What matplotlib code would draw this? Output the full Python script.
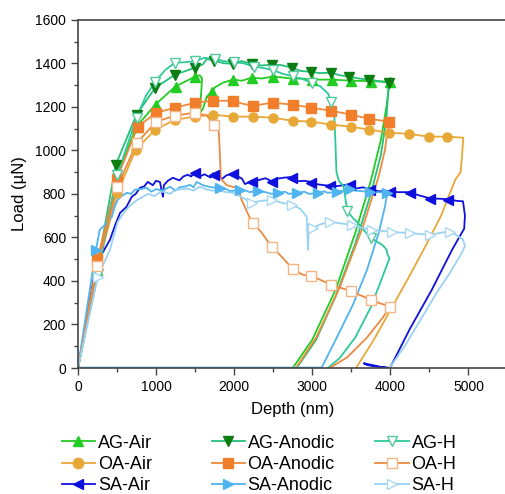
import matplotlib
matplotlib.use('Agg')
import matplotlib.pyplot as plt
from matplotlib.ticker import MultipleLocator

plt.rcParams['font.family'] = ['Liberation Sans', 'DejaVu Sans']

# ---- AG-Air ----
ag_air_d = [0, 130, 250, 505, 750, 990, 1245, 1500, 1560, 1590, 1575, 1565, 1600, 1650, 1717, 1755, 1860,
            1985, 2100, 2225, 2350, 2495, 2620, 2750, 2870, 3000, 3245, 3500, 3750, 3990,
            3950, 3880, 3750, 3550, 3300, 3000, 2750]
ag_air_l = [0, 230, 450, 890, 1109, 1210, 1293, 1339, 1345, 1330, 1250, 1175, 1190, 1247, 1270, 1290, 1311,
            1325, 1320, 1334, 1330, 1339, 1335, 1329, 1330, 1325, 1325, 1320, 1318, 1315,
            1200, 1050, 860, 620, 360, 130, 0]
ag_air_md = [250, 500, 750, 1000, 1250, 1500, 1720, 1985, 2225, 2495, 2750, 3000, 3250, 3500, 3750, 3990]
ag_air_ml = [450, 880, 1109, 1210, 1293, 1339, 1270, 1325, 1334, 1339, 1329, 1325, 1322, 1318, 1315, 1312]

# ---- AG-Anodic ----
ag_an_d = [0, 250, 485, 750, 990, 1245, 1500, 1600, 1650, 1745, 1870, 1985, 2100, 2225, 2350, 2480, 2600,
           2735, 2850, 2990, 3100, 3245, 3350, 3475, 3600, 3730, 3850, 3980,
           3950, 3880, 3750, 3550, 3300, 3050, 2800]
ag_an_l = [0, 465, 934, 1164, 1288, 1348, 1380, 1395, 1420, 1412, 1400, 1398, 1410, 1398, 1390, 1394, 1392,
           1380, 1365, 1360, 1355, 1357, 1345, 1339, 1330, 1325, 1318, 1311,
           1150, 980, 800, 570, 330, 130, 0]
ag_an_md = [250, 485, 750, 990, 1245, 1500, 1745, 1985, 2225, 2480, 2735, 2990, 3245, 3475, 3730, 3980]
ag_an_ml = [465, 934, 1164, 1288, 1348, 1380, 1412, 1398, 1398, 1394, 1380, 1360, 1357, 1339, 1325, 1311]

# ---- AG-H ----
ag_h_d = [0, 255, 505, 750, 870, 990, 1120, 1245, 1380, 1500, 1620, 1750, 1870, 2000, 2120, 2250, 2380,
          2500, 2620, 2750, 2870, 3000, 3100, 3200, 3245, 3280, 3290, 3300, 3310, 3340, 3400, 3450, 3520,
          3600, 3680, 3750, 3830, 3900, 3950, 3965, 3990,
          3900, 3750, 3550, 3350, 3200]
ag_h_l = [0, 430, 888, 1150, 1250, 1316, 1370, 1403, 1405, 1410, 1425, 1420, 1410, 1405, 1400, 1385, 1378,
          1368, 1352, 1340, 1328, 1310, 1295, 1262, 1224, 1180, 1100, 1000, 900, 860, 835, 720, 690,
          660, 625, 598, 580, 565, 545, 520, 505,
          420, 280, 140, 45, 0]
ag_h_md = [255, 505, 750, 990, 1245, 1500, 1750, 2000, 2250, 2500, 2750, 3000, 3245, 3450, 3750]
ag_h_ml = [430, 888, 1150, 1316, 1403, 1410, 1420, 1405, 1385, 1368, 1340, 1310, 1224, 720, 598]

# ---- OA-Air ----
oa_air_d = [0, 250, 505, 740, 990, 1245, 1500, 1730, 1985, 2240, 2495, 2750, 2990, 3245, 3500, 3730,
            3980, 4235, 4490, 4730, 4935, 4900, 4830, 4650, 4450, 4240, 4000, 3780, 3560]
oa_air_l = [0, 460, 805, 1003, 1095, 1141, 1155, 1164, 1155, 1155, 1150, 1136, 1132, 1118, 1109, 1095,
            1081, 1076, 1063, 1063, 1058, 900, 865, 700, 560, 420, 265, 125, 0]
oa_air_md = [250, 505, 740, 990, 1245, 1500, 1730, 1985, 2240, 2495, 2750, 2990, 3245, 3500, 3730,
             3980, 4235, 4490, 4730]
oa_air_ml = [460, 805, 1003, 1095, 1141, 1155, 1164, 1155, 1155, 1150, 1136, 1132, 1118, 1109, 1095,
             1081, 1076, 1063, 1063]

# ---- OA-Anodic ----
oa_an_d = [0, 250, 500, 765, 1005, 1245, 1500, 1730, 1985, 2100, 2240, 2495, 2750, 2990, 3245, 3500,
           3730, 3980, 3930, 3850, 3650, 3350, 3050, 2790]
oa_an_l = [0, 500, 870, 1109, 1173, 1196, 1219, 1228, 1228, 1215, 1205, 1219, 1210, 1196, 1182, 1164,
           1145, 1132, 1000, 880, 650, 370, 140, 0]
oa_an_md = [250, 500, 765, 1005, 1245, 1500, 1730, 1985, 2240, 2495, 2750, 2990, 3245, 3500, 3730, 3980]
oa_an_ml = [500, 870, 1109, 1173, 1196, 1219, 1228, 1228, 1205, 1219, 1210, 1196, 1182, 1164, 1145, 1132]

# ---- OA-H ----
oa_h_d = [0, 250, 500, 755, 1000, 1245, 1500, 1650, 1740, 1800, 1815, 1830, 1905, 2030, 2070, 2095, 2200,
          2240, 2355, 2480, 2610, 2750, 2880, 2990, 3160, 3240, 3495, 3750, 3995,
          3900, 3700, 3450, 3225]
oa_h_l = [0, 470, 830, 1035, 1131, 1160, 1173, 1160, 1118, 1110, 1003, 870, 840, 828, 805, 773, 690,
          667, 621, 557, 511, 455, 428, 423, 396, 382, 354, 313, 281,
          230, 140, 50, 0]
oa_h_md = [250, 500, 755, 1000, 1245, 1500, 1740, 2240, 2480, 2750, 2990, 3240, 3495, 3750, 3995]
oa_h_ml = [470, 830, 1035, 1131, 1160, 1173, 1118, 667, 557, 455, 423, 382, 354, 313, 281]

# ---- SA-Air ----
sa_air_d = [0, 110, 220, 300, 410, 480, 540, 620, 690, 740, 795, 850, 895, 960, 1000, 1050, 1080, 1090,
            1100, 1150, 1215, 1300, 1350, 1405, 1450, 1500, 1560, 1620, 1700, 1730, 1800, 1850, 1900,
            1985, 2050, 2100, 2140, 2225, 2300, 2400, 2480, 2550, 2650, 2750, 2800, 2900, 2990, 3050,
            3150, 3220, 3300, 3400, 3480, 3560, 3650, 3740, 3850, 3990, 4100, 4250, 4350, 4505, 4600,
            4735, 4850, 4930, 4955, 4945, 4880, 4790, 4530, 4250, 3995, 3870, 3660, 3700, 3850, 3995]
sa_air_l = [0, 225, 451, 520, 589, 660, 713, 740, 787, 800, 828, 835, 855, 840, 860, 855, 800, 787,
            840, 860, 874, 862, 880, 888, 880, 901, 880, 890, 875, 895, 880, 870, 885,
            895, 880, 870, 845, 860, 862, 872, 858, 870, 875, 878, 858, 860, 855, 845,
            840, 838, 835, 840, 845, 825, 830, 822, 812, 812, 808, 808, 795, 780, 778,
            776, 768, 766, 700, 640, 600, 543, 359, 180, 0, 6, 22, 14, 4, 0]
sa_air_md = [1500, 1740, 1985, 2230, 2490, 2745, 2990, 3230, 3480, 3740, 3990, 4250, 4505, 4735]
sa_air_ml = [897, 888, 890, 855, 855, 874, 851, 835, 842, 819, 810, 805, 777, 773]

# ---- SA-Anodic ----
sa_an_d = [0, 230, 280, 350, 435, 470, 510, 560, 625, 680, 730, 800, 880, 940, 1000, 1080, 1180, 1250,
           1300, 1380, 1435, 1480, 1520, 1600, 1650, 1720, 1815, 1900, 1950, 2070, 2150, 2200, 2305,
           2400, 2480, 2560, 2650, 2700, 2800, 2900, 2960, 3070, 3150, 3200, 3315, 3400, 3480, 3550,
           3650, 3740, 3850, 3960, 3930, 3850, 3700, 3520, 3300, 3120, 0]
sa_an_l = [0, 543, 635, 660, 695, 740, 773, 790, 805, 800, 819, 822, 828, 810, 822, 815, 833, 815,
           830, 835, 842, 830, 855, 840, 835, 830, 828, 822, 812, 819, 815, 808, 814,
           808, 800, 805, 810, 800, 805, 810, 800, 805, 812, 805, 810, 815, 823, 815,
           812, 810, 808, 805, 740, 620, 450, 290, 130, 2, 2]
sa_an_md = [230, 1815, 2070, 2305, 2560, 2800, 3070, 3315, 3480, 3740, 3960]
sa_an_ml = [543, 828, 819, 814, 805, 805, 805, 810, 823, 810, 805]

# ---- SA-H ----
sa_h_d = [0, 255, 330, 410, 460, 510, 600, 680, 750, 820, 900, 980, 1050, 1100, 1180, 1250, 1300, 1400,
          1480, 1560, 1650, 1720, 1800, 1900, 1985, 2050, 2110, 2170, 2225, 2300, 2400, 2480, 2600,
          2740, 2850, 2930, 2945, 2955, 3010, 3100, 3230, 3350, 3505, 3620, 3760, 3880, 4020, 4150,
          4250, 4400, 4505, 4650, 4760, 4850, 4930, 4955, 4900, 4750, 4600, 4400, 4200, 3990]
sa_h_l = [0, 420, 480, 543, 610, 672, 720, 750, 770, 785, 800, 790, 808, 810, 800, 820, 820, 825,
          815, 833, 820, 815, 815, 808, 805, 795, 782, 770, 759, 765, 770, 773, 760,
          750, 730, 695, 543, 640, 644, 660, 672, 665, 658, 645, 635, 630, 626, 622,
          621, 615, 612, 622, 626, 610, 590, 560, 520, 430, 350, 230, 110, 0]
sa_h_md = [255, 2225, 2480, 2740, 3010, 3230, 3505, 3760, 4020, 4250, 4505, 4760]
sa_h_ml = [420, 759, 773, 750, 644, 672, 658, 635, 626, 621, 612, 626]

fig = plt.figure(figsize=(5.06, 4.94), dpi=100)
ax = fig.add_axes([0.154, 0.255, 0.849, 0.705])

series = [
    ('AG-Air', ag_air_d, ag_air_l, ag_air_md, ag_air_ml, '#22cc22', '^', '#22cc22', '#22cc22'),
    ('OA-Air', oa_air_d, oa_air_l, oa_air_md, oa_air_ml, '#e8a838', 'o', '#e8a838', '#e8a838'),
    ('SA-Air', sa_air_d, sa_air_l, sa_air_md, sa_air_ml, '#1010dd', '<', '#1010dd', '#1010dd'),
    ('AG-Anodic', ag_an_d, ag_an_l, ag_an_md, ag_an_ml, '#25c07a', 'v', '#0b7d12', '#0b7d12'),
    ('OA-Anodic', oa_an_d, oa_an_l, oa_an_md, oa_an_ml, '#f08a3c', 's', '#f07e2a', '#f07e2a'),
    ('SA-Anodic', sa_an_d, sa_an_l, sa_an_md, sa_an_ml, '#4fb4f0', '>', '#4fb4f0', '#4fb4f0'),
    ('AG-H', ag_h_d, ag_h_l, ag_h_md, ag_h_ml, '#2ec89c', 'v', 'white', '#52c99a'),
    ('OA-H', oa_h_d, oa_h_l, oa_h_md, oa_h_ml, '#ec8a40', 's', 'white', '#f3b486'),
    ('SA-H', sa_h_d, sa_h_l, sa_h_md, sa_h_ml, '#9ad2f2', '>', 'white', '#a8d8f4'),
]

handles = []
for name, d, l, md, ml, lc, mk, mfc, mec in series:
    ax.plot(d, l, color=lc, lw=1.3, zorder=2)
    ax.plot(md, ml, ls='none', marker=mk, ms=6.5, mfc=mfc, mec=mec, mew=1.0, zorder=3)
    h, = ax.plot([], [], color=lc, lw=1.3, marker=mk, ms=7.5, mfc=mfc, mec=mec, mew=1.0, label=name)
    handles.append(h)

ax.set_xlim(0, 5500)
ax.set_ylim(0, 1600)
ax.xaxis.set_major_locator(MultipleLocator(1000))
ax.xaxis.set_minor_locator(MultipleLocator(500))
ax.yaxis.set_major_locator(MultipleLocator(200))
ax.yaxis.set_minor_locator(MultipleLocator(100))
ax.tick_params(which='major', direction='out', length=5, width=1, labelsize=10, color='#444444')
ax.tick_params(which='minor', direction='out', length=3, width=1, color='#444444')
for s in ax.spines.values():
    s.set_color('#444444')
    s.set_linewidth(1.2)

ax.set_xlabel('Depth (nm)', fontsize=12, labelpad=6)
ax.set_ylabel('Load (µN)', fontsize=12, labelpad=6)

# one legend per column so each column sits where it does in the original
col_x = [0.122, 0.418, 0.742]
for i, cx in enumerate(col_x):
    fig.legend(handles=handles[3 * i:3 * i + 3], loc='upper left', bbox_to_anchor=(cx, 0.12),
               frameon=False, fontsize=13, handlelength=1.85, handletextpad=0.15,
               labelspacing=0.24, borderpad=0, borderaxespad=0)

fig.savefig('out.png', dpi=100)
